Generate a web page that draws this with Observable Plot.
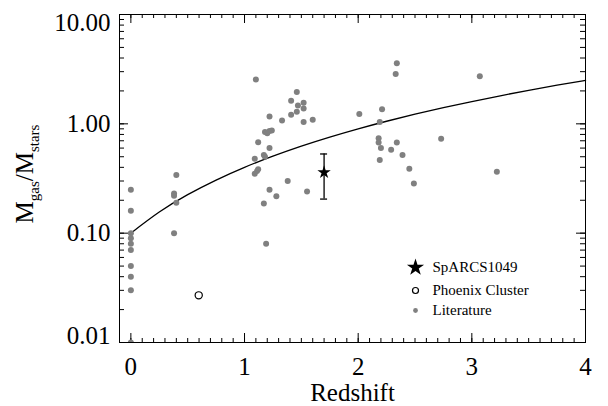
<!DOCTYPE html>
<html><head><meta charset="utf-8">
<script src="https://cdn.jsdelivr.net/npm/d3@7"></script>
<script src="https://cdn.jsdelivr.net/npm/@observablehq/plot@0.6"></script>
<style>body{margin:0;background:#fff} svg{display:block} svg text{font-family:"Liberation Serif","Times New Roman",serif !important}</style>
</head><body><div id="chart"></div>
<script>
// Literature points (redshift, Mgas/Mstars)
const litZ = [0,0,0,0,0,0,0,0,0,0,
  0.40,0.38,0.38,0.40,0.38,
  1.10,1.46,1.41,1.47,1.52,1.52,1.46,1.41,1.60,1.52,1.33,1.22,1.18,1.20,1.22,1.24,1.12,1.22,1.17,1.09,1.18,1.12,1.09,1.11,1.38,1.22,1.28,1.55,1.17,1.19,
  2.34,2.33,2.01,2.21,2.19,2.18,2.18,2.20,2.34,2.29,2.39,2.19,2.45,2.49,2.73,3.07,3.22];
const litVal = [0.25,0.16,0.10,0.09,0.08,0.07,0.05,0.04,0.03,0.01,
  0.34,0.23,0.22,0.19,0.10,
  2.54,1.95,1.63,1.47,1.56,1.38,1.29,1.21,1.09,1.04,1.07,1.17,0.84,0.82,0.86,0.87,0.68,0.60,0.52,0.48,0.50,0.385,0.35,0.37,0.30,0.25,0.218,0.24,0.187,0.080,
  3.59,2.85,1.23,1.36,1.04,0.74,0.675,0.60,0.675,0.58,0.52,0.466,0.388,0.285,0.73,2.73,0.364];
// SpARCS1049
const sparcsZ = [1.70];
const sparcsVal = [0.36];
const sparcsLo = [0.205];
const sparcsHi = [0.53];
// Phoenix cluster
const phoenixZ = [0.597];
const phoenixVal = [0.027];
// Model curve
const curveZ = [0,0.25,0.5,0.75,1,1.25,1.5,1.75,2,2.25,2.5,2.75,3,3.25,3.5,3.75,4];
const curveVal = [0.10,0.156,0.225,0.306,0.40,0.506,0.625,0.756,0.90,1.056,1.225,1.406,1.60,1.806,2.025,2.256,2.50];
// Ticks & labels
const xTicks = [0,1,2,3,4];
const xMinor = d3.range(0,41).map(i => i/10);
const yTicks = [0.01,0.1,1,10];
const yMinor = d3.scaleLog().domain([0.01,10]).ticks();
const legendLabels = ["SpARCS1049","Phoenix Cluster","Literature"];
const xLabel = "Redshift";

const lit = litZ.map((z,i) => ({z, v: litVal[i]}));
const sparcs = sparcsZ.map((z,i) => ({z, v: sparcsVal[i], lo: sparcsLo[i], hi: sparcsHi[i]}));
const phoenix = phoenixZ.map((z,i) => ({z, v: phoenixVal[i]}));
const curve = curveZ.map((z,i) => ({z, v: curveVal[i]}));

const W = 608, H = 406, mL = 119, mR = 23, mT = 14, mB = 64;
const pw = W - mL - mR, ph = H - mT - mB;
const fmt = d3.format(".2f");
const font = "'Liberation Serif', 'Times New Roman', serif";

const plot = Plot.plot({
  width: W, height: H,
  marginLeft: mL, marginRight: mR, marginTop: mT, marginBottom: mB,
  style: {fontFamily: font, background: "#fff", color: "#000", overflow: "visible"},
  x: {domain: [-0.1, 4]},
  y: {type: "log", domain: [0.01, 10]},
  marks: [
    // minor & major ticks, inward, on all four sides
    Plot.tickX(xMinor, {x: d => d, insetTop: ph - 4, stroke: "#000"}),
    Plot.tickX(xMinor, {x: d => d, insetBottom: ph - 4, stroke: "#000"}),
    Plot.tickX(xTicks, {x: d => d, insetTop: ph - 9, stroke: "#000"}),
    Plot.tickX(xTicks, {x: d => d, insetBottom: ph - 9, stroke: "#000"}),
    Plot.tickY(yMinor, {y: d => d, insetRight: pw - 5, stroke: "#000"}),
    Plot.tickY(yMinor, {y: d => d, insetLeft: pw - 5, stroke: "#000"}),
    Plot.tickY(yTicks, {y: d => d, insetRight: pw - 9, stroke: "#000"}),
    Plot.tickY(yTicks, {y: d => d, insetLeft: pw - 9, stroke: "#000"}),
    Plot.axisX({ticks: xTicks, tickSize: 0, tickPadding: 15, fontSize: 25, fontFamily: font, label: null, tickFormat: d => String(d)}),
    Plot.axisY({ticks: [10], tickSize: 0, tickPadding: 9, fontSize: 25, fontFamily: font, label: null, tickFormat: fmt, dy: 8}),
    Plot.axisY({ticks: [0.1, 1], tickSize: 0, tickPadding: 9, fontSize: 25, fontFamily: font, label: null, tickFormat: fmt}),
    Plot.axisY({ticks: [0.01], tickSize: 0, tickPadding: 9, fontSize: 25, fontFamily: font, label: null, tickFormat: fmt, dy: -7}),
    Plot.frame({stroke: "#000", strokeWidth: 1}),
    Plot.line(curve, {x: "z", y: "v", curve: "natural", stroke: "#000", strokeWidth: 1.3}),
    Plot.dot(lit, {x: "z", y: "v", r: 3, fill: "#808080", clip: true}),
    Plot.dot(phoenix, {x: "z", y: "v", r: 3.6, stroke: "#000", strokeWidth: 1.2, fill: "none"}),
    Plot.ruleX(sparcs, {x: "z", y1: "lo", y2: "hi", stroke: "#000", strokeWidth: 1.3}),
    Plot.ruleY(sparcs, {y: "lo", x1: "z", x2: "z", insetLeft: -3.5, insetRight: -3.5, stroke: "#000", strokeWidth: 1.3}),
    Plot.ruleY(sparcs, {y: "hi", x1: "z", x2: "z", insetLeft: -3.5, insetRight: -3.5, stroke: "#000", strokeWidth: 1.3}),
    Plot.dot(sparcs, {x: "z", y: "v", symbol: "star", r: 4.2, fill: "#000"}),
    // legend
    Plot.dot([legendLabels[0]], {frameAnchor: "bottom-right", dx: -170, dy: -75, symbol: "star", r: 5.4, fill: "#000"}),
    Plot.dot([legendLabels[1]], {frameAnchor: "bottom-right", dx: -170, dy: -52, r: 3, stroke: "#000", strokeWidth: 1.2, fill: "none"}),
    Plot.dot([legendLabels[2]], {frameAnchor: "bottom-right", dx: -170, dy: -32, r: 2.4, fill: "#808080"}),
    Plot.text([legendLabels[0]], {text: d => d, frameAnchor: "bottom-right", lineAnchor: "middle", dx: -153, dy: -75, textAnchor: "start", fontSize: 15, fontFamily: font, fill: "#000"}),
    Plot.text([legendLabels[1]], {text: d => d, frameAnchor: "bottom-right", lineAnchor: "middle", dx: -153, dy: -52, textAnchor: "start", fontSize: 15, fontFamily: font, fill: "#000"}),
    Plot.text([legendLabels[2]], {text: d => d, frameAnchor: "bottom-right", lineAnchor: "middle", dx: -153, dy: -32, textAnchor: "start", fontSize: 15, fontFamily: font, fill: "#000"}),
    // x axis title
    Plot.text([xLabel], {text: d => d, frameAnchor: "bottom", lineAnchor: "bottom", dy: 58, fontSize: 25, fontFamily: font, fill: "#000"})
  ]
});
document.getElementById("chart").appendChild(plot);

// y axis title with subscripts
const svg = d3.select(plot);
const yl = svg.append("text")
  .attr("transform", "translate(33,174) rotate(-90)")
  .attr("text-anchor", "middle")
  .attr("font-family", font)
  .attr("font-size", 25)
  .attr("fill", "#000");
yl.append("tspan").text("M");
yl.append("tspan").attr("font-size", 15).attr("dy", 6).text("gas");
yl.append("tspan").attr("dy", -6).text("/M");
yl.append("tspan").attr("font-size", 15).attr("dy", 6).text("stars");
</script></body></html>
